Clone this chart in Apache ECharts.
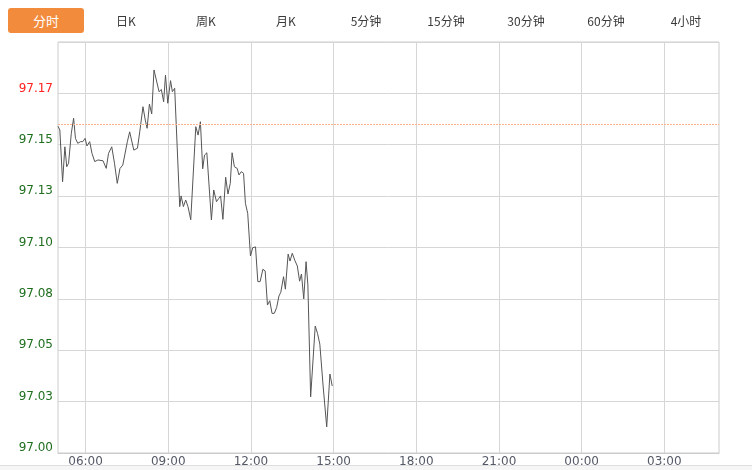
<!DOCTYPE html>
<html>
<head>
<meta charset="utf-8">
<script src="https://cdn.jsdelivr.net/npm/echarts@6/dist/echarts.min.js"></script>
<style>
  html, body { margin: 0; padding: 0; background: #fff; }
  #wrap { position: relative; width: 752px; height: 470px; overflow: hidden; }
  #chart { position: absolute; left: 0; top: 0; width: 752px; height: 470px; }
  .tab { position: absolute; top: 8px; height: 25px; line-height: 25px; font-family: "Noto Sans CJK SC", "Noto Sans", sans-serif; font-size: 12px; color: #3a3a3a; text-align: center; width: 76px; }
  .tab.active { left: 8px; background: #f28b3c; color: #fff; border-radius: 3px; font-size: 13px; }
  #foot { position: absolute; left: 0; top: 465px; width: 752px; height: 5px; background: #f6f6f6; border-top: 1px solid #dedede; }
</style>
</head>
<body>
<div id="wrap">
  <div id="chart"></div>
  <div id="tabs"></div>
  <div id="foot"></div>
</div>
<script>
// ---- data ----
var tabNames = ['分时', '日K', '周K', '月K', '5分钟', '15分钟', '30分钟', '60分钟', '4小时'];
var yTickLabels = ['97.00', '97.03', '97.05', '97.08', '97.10', '97.13', '97.15', '97.17', ''];
var prevClose = 97.16;
var times = [
  '05:00','05:04','05:10','05:15','05:19','05:23','05:29','05:34','05:38','05:43',
  '05:49','05:54','05:59','06:03','06:09','06:14','06:20','06:27','06:38','06:45',
  '06:50','06:57','07:03','07:09','07:15','07:21','07:25','07:31','07:36','07:45',
  '07:53','07:58','08:05','08:10','08:14','08:19','08:24','08:29','08:33','08:40',
  '08:45','08:50','08:54','08:59','09:05','09:09','09:14','09:25','09:28','09:33',
  '09:38','09:43','09:49','10:00','10:05','10:10','10:15','10:19','10:24','10:34',
  '10:39','10:45','10:50','10:54','10:59','11:05','11:10','11:15','11:19','11:24',
  '11:30','11:34','11:39','11:44','11:48','11:53','11:59','12:04','12:10','12:15',
  '12:20','12:26','12:31','12:36','12:41','12:46','12:51','12:56','13:01','13:05',
  '13:11','13:15','13:21','13:25','13:30','13:36','13:41','13:46','13:50','13:55',
  '14:00','14:04','14:10','14:20','14:25','14:30','14:37','14:45','14:52','14:55',
  '14:57'
];
var prices = [
  97.1590, 97.1572, 97.1320, 97.1490, 97.1393, 97.1410, 97.1556, 97.1629, 97.1531, 97.1507,
  97.1515, 97.1515, 97.1531, 97.1494, 97.1515, 97.1458, 97.1418, 97.1426, 97.1422, 97.1385,
  97.1458, 97.1490, 97.1410, 97.1312, 97.1385, 97.1401, 97.1393, 97.1515, 97.1563, 97.1474,
  97.1483, 97.1563, 97.1685, 97.1620, 97.1580, 97.1698, 97.1650, 97.1864, 97.1864, 97.1758,
  97.1769, 97.1709, 97.1839, 97.1702, 97.1812, 97.1758, 97.1775, 97.1199, 97.1251, 97.1199,
  97.1231, 97.1199, 97.1135, 97.1588, 97.1547, 97.1612, 97.1383, 97.1450, 97.1461, 97.1134,
  97.1280, 97.1223, 97.1239, 97.1251, 97.1137, 97.1342, 97.1260, 97.1312, 97.1461, 97.1393,
  97.1385, 97.1353, 97.1369, 97.1361, 97.1215, 97.1166, 97.0959, 97.0999, 97.1003, 97.0834,
  97.0834, 97.0894, 97.0886, 97.0720, 97.0741, 97.0679, 97.0680, 97.0708, 97.0764, 97.0782,
  97.0858, 97.0797, 97.0968, 97.0934, 97.0972, 97.0935, 97.0910, 97.0836, 97.0871, 97.0750,
  97.0931, 97.0818, 97.0273, 97.0618, 97.0582, 97.0530, 97.0331, 97.0127, 97.0384, 97.0384,
  97.0326
];

// session axis: one category per minute, 05:00 .. 04:59 next day
var startMinute = 5 * 60;
var sessionMinutes = 1440;
var axisCategories = [];
for (var m = 0; m < sessionMinutes; m++) {
  var t = (startMinute + m) % 1440;
  var hh = Math.floor(t / 60), mm = t % 60;
  axisCategories.push((hh < 10 ? '0' : '') + hh + ':' + (mm < 10 ? '0' : '') + mm);
}
function isLabelIndex(i) { return i >= 60 && (i - 60) % 180 === 0; }

// tabs
var tabsEl = document.getElementById('tabs');
var tabCenters = [46, 126, 206, 286, 366, 446, 526, 606, 686];
tabNames.forEach(function (name, i) {
  var d = document.createElement('div');
  d.className = 'tab' + (i === 0 ? ' active' : '');
  d.textContent = name;
  d.style.left = (tabCenters[i] - 38) + 'px';
  tabsEl.appendChild(d);
});

var chart = echarts.init(document.getElementById('chart'), null, { renderer: 'canvas' });
chart.setOption({
  animation: false,
  grid: { left: 58, right: 33, top: 42, bottom: 17, show: true, borderColor: '#cccccc', borderWidth: 1, backgroundColor: 'transparent' },
  xAxis: {
    type: 'category',
    data: axisCategories,
    boundaryGap: false,
    axisLine: { show: true, lineStyle: { color: '#cccccc' } },
    axisTick: { show: false },
    axisLabel: {
      interval: function (i) { return isLabelIndex(i); },
      color: '#555a66', fontFamily: 'DejaVu Sans', fontSize: 12, margin: 3
    },
    splitLine: { show: true, interval: function (i) { return isLabelIndex(i); }, lineStyle: { color: '#d6d6d6', width: 1 } }
  },
  yAxis: {
    type: 'value',
    min: 97.00, max: 97.20, interval: 0.025,
    axisLine: { show: false },
    axisTick: { show: false },
    axisLabel: {
      formatter: function (v, i) { return yTickLabels[i] || ''; },
      color: function (v, i) { return (v > prevClose) ? '#ff2020' : '#1f6f1f'; },
      fontFamily: 'DejaVu Sans', fontSize: 12, margin: 5, verticalAlign: 'bottom', lineHeight: 10
    },
    splitLine: { show: true, lineStyle: { color: '#d6d6d6', width: 1 } }
  },
  series: [{
    type: 'line',
    data: times.map(function (t, i) { return [t, prices[i]]; }),
    showSymbol: false,
    symbol: 'none',
    lineStyle: { color: '#555555', width: 1 },
    markLine: {
      silent: true,
      symbol: 'none',
      label: { show: false },
      lineStyle: { color: '#fbb28a', type: [2, 1], width: 1 },
      data: [{ yAxis: prevClose }]
    }
  }]
});
</script>
</body>
</html>
